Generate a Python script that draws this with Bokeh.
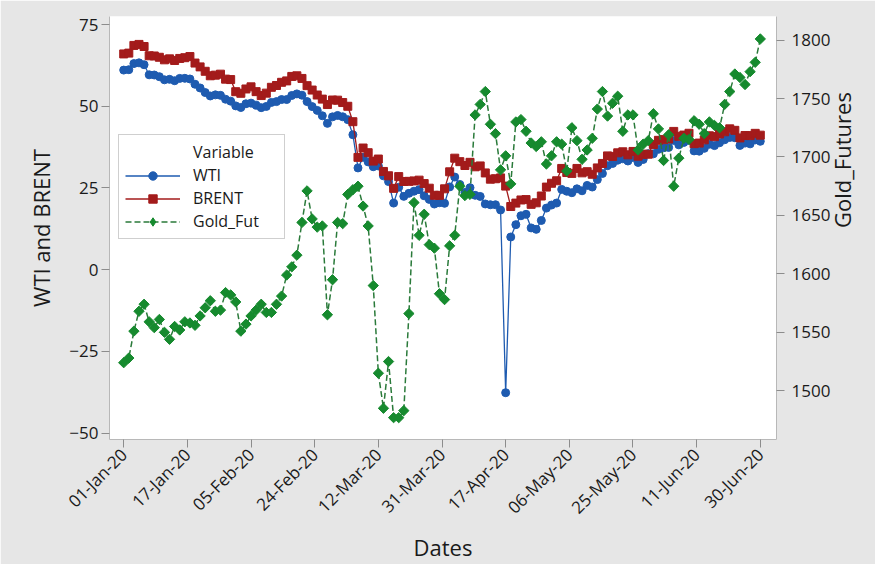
import math
from bokeh.plotting import figure
from bokeh.models import (ColumnDataSource, Range1d, LinearAxis, FixedTicker,
                          Legend, LegendItem)
from bokeh.embed import file_html
from bokeh.resources import INLINE

# ---------------- data ----------------
tick_labels = ["01-Jan-20", "17-Jan-20", "05-Feb-20", "24-Feb-20", "12-Mar-20",
               "31-Mar-20", "17-Apr-20", "06-May-20", "25-May-20", "11-Jun-20",
               "30-Jun-20"]

wti = [61.06,
       61.18, 63.05, 63.27, 62.70, 59.61, 59.56, 59.04, 58.08, 58.23, 57.81,
       58.52, 58.54, 58.34, 56.74, 55.59, 54.19, 53.14, 53.48, 53.33, 52.14, 51.56,
       50.11, 49.61, 50.75, 50.95, 50.32, 49.57, 49.94, 51.17, 51.42, 52.05,
       52.05, 53.29, 53.78, 53.38, 51.43, 49.90, 48.73, 47.09, 44.76,
       46.75, 47.18, 46.78, 45.90, 41.28, 31.13, 34.36, 32.98, 31.50, 31.73,
       28.70, 26.95, 20.37, 25.22, 22.43, 23.36, 24.01, 24.49, 22.60, 21.51, 20.09, 20.48,
       20.31, 25.32, 28.34, 26.08, 23.63, 25.09, 22.76, 22.41, 20.11, 19.87,
       19.87, 18.27, -37.63, 10.01, 13.78, 16.50, 16.94, 12.78, 12.34, 15.06, 18.84,
       19.78, 20.39, 24.56, 23.99, 23.55, 24.74, 24.14, 25.78, 25.29, 27.56,
       29.43, 31.82, 32.50, 33.49, 33.92, 33.25, 34.35, 32.81, 33.71, 35.49,
       35.44, 36.81, 37.29, 37.41, 39.55, 38.19, 38.94, 39.60, 36.34, 36.26,
       37.12, 38.38, 37.96, 38.84, 39.75, 40.46, 40.37, 38.01, 38.72, 38.49, 39.70, 39.27]

brent = [66.00,
         66.25, 68.60, 68.91, 68.27, 65.44, 65.37, 64.98, 64.20, 64.49, 64.00,
         64.62, 64.85, 65.20, 63.21, 62.04, 60.69, 59.32, 59.51, 59.81, 58.29, 58.16,
         54.45, 53.96, 55.28, 55.93, 54.47, 53.27, 54.01, 55.79, 56.34, 57.32,
         57.75, 59.12, 59.31, 58.50, 56.30, 54.95, 53.43, 52.18, 50.52,
         51.90, 51.86, 51.13, 49.99, 45.27, 34.36, 37.22, 35.79, 33.22, 33.85,
         30.05, 28.73, 24.88, 28.47, 26.98, 27.03, 27.15, 27.39, 26.34, 24.93, 22.76, 22.74,
         24.74, 29.94, 34.11, 33.05, 31.87, 32.84, 31.48, 31.74, 29.60, 27.69,
         27.82, 28.08, 25.57, 19.33, 20.37, 21.33, 21.44, 19.99, 20.46, 22.54, 25.27,
         26.44, 27.20, 30.97, 29.72, 29.46, 30.97, 29.63, 29.98, 29.19, 31.13,
         32.50, 34.81, 34.65, 35.75, 36.06, 35.13, 36.17, 34.74, 35.29, 35.33,
         38.32, 39.57, 39.79, 39.99, 42.30, 40.80, 41.18, 41.73, 38.55, 38.73,
         39.72, 40.96, 40.71, 41.51, 42.19, 43.08, 42.63, 40.31, 41.05, 41.02, 41.71, 41.15]

gold = [1524, 1528, 1551, 1568, 1574, 1559, 1554, 1561, 1550, 1544,
        1555, 1552, 1559, 1558, 1556, 1564, 1571, 1577, 1568, 1569,
        1584, 1582, 1576, 1551, 1557, 1564, 1569, 1574, 1567, 1567,
        1574, 1581, 1599, 1606, 1616, 1644, 1671, 1647, 1640, 1641,
        1565, 1595, 1644, 1643, 1668, 1672, 1675, 1658, 1641, 1590,
        1515, 1485, 1525, 1477, 1477, 1483, 1566, 1661, 1633, 1651,
        1625, 1622, 1583, 1578, 1624, 1633, 1675, 1667, 1668, 1736,
        1745, 1756, 1728, 1720, 1689, 1701, 1677, 1730, 1732, 1722,
        1712, 1709, 1713, 1694, 1701, 1713, 1711, 1688, 1725, 1714,
        1698, 1706, 1716, 1741, 1756, 1735, 1746, 1752, 1722, 1736,
        1736, 1706, 1711, 1714, 1737, 1724, 1697, 1719, 1675, 1699,
        1716, 1715, 1731, 1728, 1720, 1730, 1727, 1725, 1745, 1756,
        1771, 1768, 1762, 1773, 1781, 1801]

left_ticks = [-50, -25, 0, 25, 50, 75]
right_ticks = [1500, 1550, 1600, 1650, 1700, 1750, 1800]

# ---------------- styling ----------------
FONT = "Open Sans"
BLUE = "#1e5bb0"
RED = "#a31b1b"
GREEN = "#168a2e"
GREEN_LINE = "#2a7a3a"
BG = "#e6e6e6"
TXT = "#1a1a1a"

n = len(wti)
idx = list(range(n))
step = (n - 1) / (len(tick_labels) - 1)
x_ticks = [i * step for i in range(len(tick_labels))]

src = ColumnDataSource(dict(x=idx, wti=wti, brent=brent, gold=gold))

p = figure(width=875, height=564, output_backend="svg", toolbar_location=None,
           x_range=Range1d(-2.79, 128.18), y_range=Range1d(-51.94, 77.45),
           min_border_left=109, min_border_right=94, min_border_top=16,
           min_border_bottom=121, background_fill_color="white",
           border_fill_color=BG, outline_line_color=None)
p.extra_y_ranges = {"gold": Range1d(1458.3, 1820.2)}
p.xgrid.visible = False
p.ygrid.visible = False

l1 = p.line("x", "wti", source=src, line_color=BLUE, line_width=1.3)
s1 = p.scatter("x", "wti", source=src, marker="circle", size=8,
               fill_color=BLUE, line_color=BLUE)
l2 = p.line("x", "brent", source=src, line_color=RED, line_width=1.3)
s2 = p.scatter("x", "brent", source=src, marker="square", size=8,
               fill_color=RED, line_color=RED)
l3 = p.line("x", "gold", source=src, y_range_name="gold", line_color=GREEN_LINE,
            line_width=1.5, line_dash="6 3")
s3 = p.scatter("x", "gold", source=src, y_range_name="gold", marker="square",
               angle=math.pi / 4, size=7.3, fill_color=GREEN, line_color=GREEN)
# legend key: legend glyphs are never rotated, so the key uses a diamond marker
# drawn at zero size in the plot itself (the legend sizes its own glyph)
s3_key = p.scatter("x", "gold", source=src, y_range_name="gold", marker="diamond",
                   size=0, fill_color=GREEN, line_color=GREEN)

ra = LinearAxis(y_range_name="gold", axis_label="Gold_Futures")
p.add_layout(ra, "right")

xa = p.xaxis[0]
la = p.yaxis[0]
xa.ticker = FixedTicker(ticks=x_ticks)
xa.major_label_overrides = {t: lab for t, lab in zip(x_ticks, tick_labels)}
xa.major_label_orientation = math.pi / 4
xa.axis_label = "Dates"
la.ticker = FixedTicker(ticks=left_ticks)
la.axis_label = "WTI and BRENT"
ra.ticker = FixedTicker(ticks=right_ticks)

for ax in (xa, la, ra):
    ax.axis_line_color = "#b8b8b8"
    ax.major_tick_line_color = "#8c8c8c"
    ax.major_tick_out = 8
    ax.major_tick_in = 0
    ax.minor_tick_line_color = None
    ax.major_label_text_font = FONT
    ax.major_label_text_font_size = "17px"
    ax.major_label_text_color = TXT
    ax.axis_label_text_font = FONT
    ax.axis_label_text_font_size = "22px"
    ax.axis_label_text_font_style = "normal"
    ax.axis_label_text_color = TXT

xa.major_label_standoff = 4
la.major_label_standoff = 3
ra.major_label_standoff = 7
la.axis_label_standoff = 10
ra.axis_label_standoff = 9
xa.axis_label_standoff = 2
try:
    ra.axis_label_orientation = math.pi / 2
except Exception:
    pass

legend = Legend(items=[LegendItem(label="Variable", renderers=[]),
                       LegendItem(label="WTI", renderers=[l1, s1]),
                       LegendItem(label="BRENT", renderers=[l2, s2]),
                       LegendItem(label="Gold_Fut", renderers=[l3, s3_key])],
                location=(9, 200), padding=6, spacing=1, margin=0,
                glyph_width=55, glyph_height=21, label_height=19,
                label_standoff=13, label_width=85,
                label_text_font=FONT, label_text_font_size="16px",
                label_text_color=TXT, border_line_color="#a0a0a0",
                border_line_width=1, background_fill_color="white",
                background_fill_alpha=1.0)
p.add_layout(legend)

open("out.html", "w").write(file_html(p, INLINE))
